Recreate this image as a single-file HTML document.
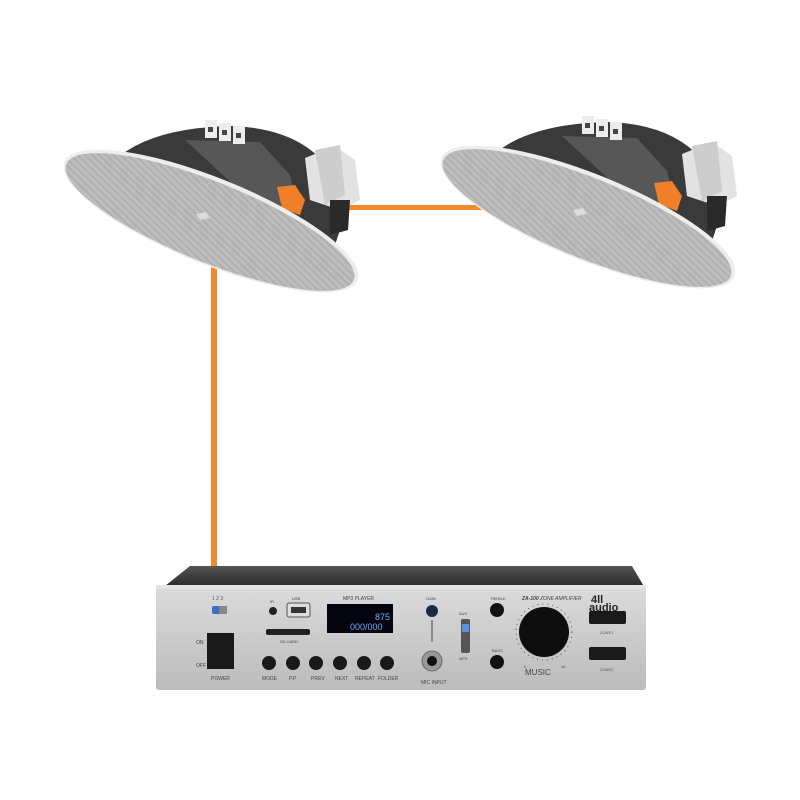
<!DOCTYPE html>
<html><head><meta charset="utf-8"><style>
html,body{margin:0;padding:0;background:#fff;}
svg{display:block}
text{font-family:"Liberation Sans",sans-serif;}
</style></head><body>
<svg width="800" height="800" viewBox="0 0 800 800" xmlns="http://www.w3.org/2000/svg">
<defs>
<pattern id="grill" width="5" height="5" patternUnits="userSpaceOnUse" patternTransform="rotate(22)">
<rect width="5" height="5" fill="#bdbdbd"/><rect width="5" height="2" fill="#afafaf"/>
</pattern>
<linearGradient id="panel" x1="0" y1="0" x2="0" y2="1">
<stop offset="0" stop-color="#dcdcdc"/><stop offset="0.5" stop-color="#cbcbcb"/><stop offset="1" stop-color="#bcbcbc"/>
</linearGradient>
<linearGradient id="top" x1="0" y1="0" x2="0" y2="1">
<stop offset="0" stop-color="#555"/><stop offset="1" stop-color="#222"/>
</linearGradient>
<g id="spk">
<path d="M115 160 Q150 128 230 126 Q300 128 330 170 L345 215 L330 260 L200 200 Z" fill="#3a3a3a"/>
<path d="M185 140 L260 142 L290 175 L300 215 L250 200 Z" fill="#575757"/>
<rect x="205" y="120" width="12" height="18" fill="#ececec"/>
<rect x="219" y="123" width="12" height="18" fill="#ececec"/>
<rect x="233" y="126" width="12" height="18" fill="#ececec"/>
<rect x="208" y="127" width="5" height="5" fill="#444"/>
<rect x="222" y="130" width="5" height="5" fill="#444"/>
<rect x="236" y="133" width="5" height="5" fill="#444"/>
<path d="M277 187 L295 185 L305 200 L300 215 L282 208 Z" fill="#f07f2a"/>
<path d="M305 158 L335 146 L355 160 L360 200 L340 210 L310 200 Z" fill="#e2e2e2"/>
<path d="M315 150 L340 145 L345 195 L325 205 Z" fill="#cdcdcd"/>
<path d="M330 200 L350 200 L348 230 L330 235 Z" fill="#2a2a2a"/>
<ellipse cx="211" cy="221" rx="158" ry="43" transform="rotate(22 211 221)" fill="#ededed"/>
<ellipse cx="210" cy="222" rx="155" ry="40" transform="rotate(22 210 222)" fill="url(#grill)"/>
<path d="M196 214 L206 212 L210 218 L200 220 Z" fill="#dcdcdc"/>
</g>
</defs>

<rect x="211" y="262" width="6" height="306" fill="#f08a2c"/>
<rect x="345" y="205" width="140" height="5" fill="#f08a2c"/>

<use href="#spk"/>
<use href="#spk" transform="translate(377,-4)"/>

<path d="M190 566 L632 566 L646 590 L160 590 Z" fill="url(#top)"/>
<rect x="156" y="585" width="490" height="105" rx="3" fill="url(#panel)"/>
<rect x="156" y="585" width="490" height="4" fill="#e4e4e4"/>
<rect x="212" y="606" width="14" height="8" rx="2" fill="#3a6fc9"/>
<rect x="219" y="606" width="8" height="8" fill="#888"/>
<text x="212" y="600" font-size="5" fill="#555">1 2 3</text>
<text x="196" y="644" font-size="5" fill="#444">ON</text>
<text x="196" y="667" font-size="5" fill="#444">OFF</text>
<rect x="207" y="633" width="27" height="36" fill="#1a1a1a"/>
<text x="211" y="680" font-size="5" fill="#444">POWER</text>
<circle cx="273" cy="611" r="4" fill="#222"/>
<text x="270" y="603" font-size="4" fill="#444">IR</text>
<rect x="287" y="603" width="23" height="14" rx="2" fill="#ddd" stroke="#555"/>
<rect x="291" y="607" width="15" height="6" fill="#333"/>
<text x="292" y="600" font-size="4" fill="#444">USB</text>
<rect x="266" y="629" width="44" height="6" rx="2" fill="#222"/>
<text x="280" y="643" font-size="4" fill="#444">SD CARD</text>
<text x="343" y="600" font-size="5" fill="#444">MP3 PLAYER</text>
<rect x="327" y="604" width="66" height="29" fill="#050510"/>
<text x="375" y="620" font-size="9" fill="#6fa8ff">875</text>
<text x="350" y="630" font-size="9" fill="#6fa8ff">000/000</text>
<g fill="#1a1a1a">
<circle cx="269" cy="663" r="7"/><circle cx="293" cy="663" r="7"/><circle cx="316" cy="663" r="7"/>
<circle cx="340" cy="663" r="7"/><circle cx="364" cy="663" r="7"/><circle cx="387" cy="663" r="7"/>
</g>
<g font-size="5" fill="#444">
<text x="262" y="680">MODE</text><text x="289" y="680">P.P</text><text x="311" y="680">PREV</text>
<text x="335" y="680">NEXT</text><text x="355" y="680">REPEAT</text><text x="378" y="680">FOLDER</text>
</g>
<text x="426" y="600" font-size="4" fill="#444">GAIN</text>
<circle cx="432" cy="611" r="6" fill="#1a2a44"/>
<line x1="432" y1="620" x2="432" y2="642" stroke="#444"/>
<circle cx="432" cy="661" r="10" fill="#999" stroke="#666"/>
<circle cx="432" cy="661" r="5" fill="#111"/>
<text x="421" y="684" font-size="5" fill="#444">MIC INPUT</text>
<rect x="461" y="619" width="9" height="34" rx="2" fill="#555"/>
<rect x="462" y="624" width="7" height="8" fill="#5b8fe0"/>
<text x="459" y="615" font-size="4" fill="#444">AUX</text>
<text x="459" y="660" font-size="4" fill="#444">MP3</text>
<text x="490" y="600" font-size="4" fill="#444">TREBLE</text>
<circle cx="497" cy="610" r="7" fill="#111"/>
<text x="492" y="652" font-size="4" fill="#444">BASS</text>
<circle cx="497" cy="662" r="7" fill="#111"/>
<text x="522" y="600" font-size="5" font-style="italic" font-weight="bold" fill="#444">ZA-100 <tspan font-weight="normal">ZONE AMPLIFIER</tspan></text>
<circle cx="544" cy="632" r="28" fill="none" stroke="#555" stroke-width="1" stroke-dasharray="1 4"/>
<circle cx="544" cy="632" r="25" fill="#0d0d0d"/>
<text x="525" y="675" font-size="8" fill="#444">MUSIC</text>
<text x="524" y="668" font-size="4" fill="#444">0</text>
<text x="561" y="668" font-size="4" fill="#444">10</text>
<text x="591" y="603" font-size="11" font-weight="bold" fill="#222">4ll</text>
<text x="589" y="611" font-size="11" font-weight="bold" fill="#222">audio</text>
<rect x="589" y="611" width="37" height="13" rx="2" fill="#1a1a1a"/>
<text x="600" y="634" font-size="4" fill="#555">ZONE1</text>
<rect x="589" y="647" width="37" height="13" rx="2" fill="#1a1a1a"/>
<text x="600" y="671" font-size="4" fill="#555">ZONE2</text>
</svg>
</body></html>
